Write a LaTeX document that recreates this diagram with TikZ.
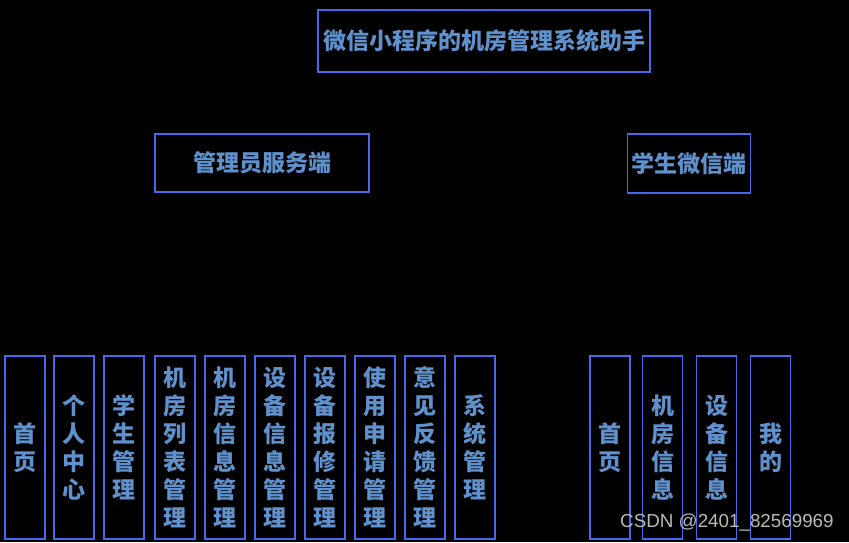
\documentclass[tikz,border=0pt]{standalone}
\usepackage{fontspec}
\newfontfamily\cjk{Noto Sans CJK SC}
\newfontfamily\wmfont{Liberation Sans}
\definecolor{boxblue}{RGB}{70,105,235}
\definecolor{txtblue}{RGB}{95,145,205}
\definecolor{wmgray}{RGB}{185,185,185}
\tikzset{
  modbox/.style={draw=boxblue,line width=1.2pt,inner sep=0pt,text=txtblue,
    font=\cjk\bfseries\fontsize{23}{28}\selectfont},
  leafbox/.style={modbox,minimum width=40pt,minimum height=183pt,align=center},
  link/.style={draw=black,line width=1pt}
}
\begin{document}
\begin{tikzpicture}[x=1pt,y=-1pt]
\fill[black] (0,0) rectangle (849,542);
\useasboundingbox (0,0) rectangle (849,542);
\path
    (484,41)    node (root)  [modbox,minimum width=332pt,minimum height=62pt] {微信小程序的机房管理系统助手}
    (262,163)   node (admin) [modbox,minimum width=214pt,minimum height=58pt] {管理员服务端}
    (689,163.5) node (stud)  [modbox,minimum width=123pt,minimum height=59pt] {学生微信端};
\path
    (25,447.5)  node (a1)  [leafbox] {首\\页}
    (74,447.5)  node (a2)  [leafbox] {个\\人\\中\\心}
    (124,447.5) node (a3)  [leafbox] {学\\生\\管\\理}
    (175,447.5) node (a4)  [leafbox] {机\\房\\列\\表\\管\\理}
    (225,447.5) node (a5)  [leafbox] {机\\房\\信\\息\\管\\理}
    (275,447.5) node (a6)  [leafbox] {设\\备\\信\\息\\管\\理}
    (325,447.5) node (a7)  [leafbox] {设\\备\\报\\修\\管\\理}
    (375,447.5) node (a8)  [leafbox] {使\\用\\申\\请\\管\\理}
    (425,447.5) node (a9)  [leafbox] {意\\见\\反\\馈\\管\\理}
    (475,447.5) node (a10) [leafbox] {系\\统\\管\\理};
\path
    (610,447.5)   node (s1) [leafbox] {首\\页}
    (662.5,447.5) node (s2) [leafbox] {机\\房\\信\\息}
    (716.5,447.5) node (s3) [leafbox] {设\\备\\信\\息}
    (770.5,447.5) node (s4) [leafbox] {我\\的};
% tree links (black, as in the original)
\draw[link] (root.south) -- ++(0,31) coordinate (rb) -| (admin.north);
\draw[link] (rb) -| (stud.north);
\draw[link] (admin.south) -- ++(0,82) coordinate (ab);
\draw[link] (ab) -| (a1.north) (ab) -| (a2.north) (ab) -| (a3.north)
    (ab) -| (a4.north) (ab) -| (a5.north) (ab) -| (a6.north) (ab) -| (a7.north)
    (ab) -| (a8.north) (ab) -| (a9.north) (ab) -| (a10.north);
\draw[link] (stud.south) -- ++(0,82) coordinate (sb);
\draw[link] (sb) -| (s1.north) (sb) -| (s2.north) (sb) -| (s3.north) (sb) -| (s4.north);
\node (wm) [anchor=west,text=wmgray,font=\wmfont\fontsize{18.8}{20}\selectfont,inner sep=0pt]
    at (620,522.5) {CSDN @2401\_82569969};
\end{tikzpicture}
\end{document}
